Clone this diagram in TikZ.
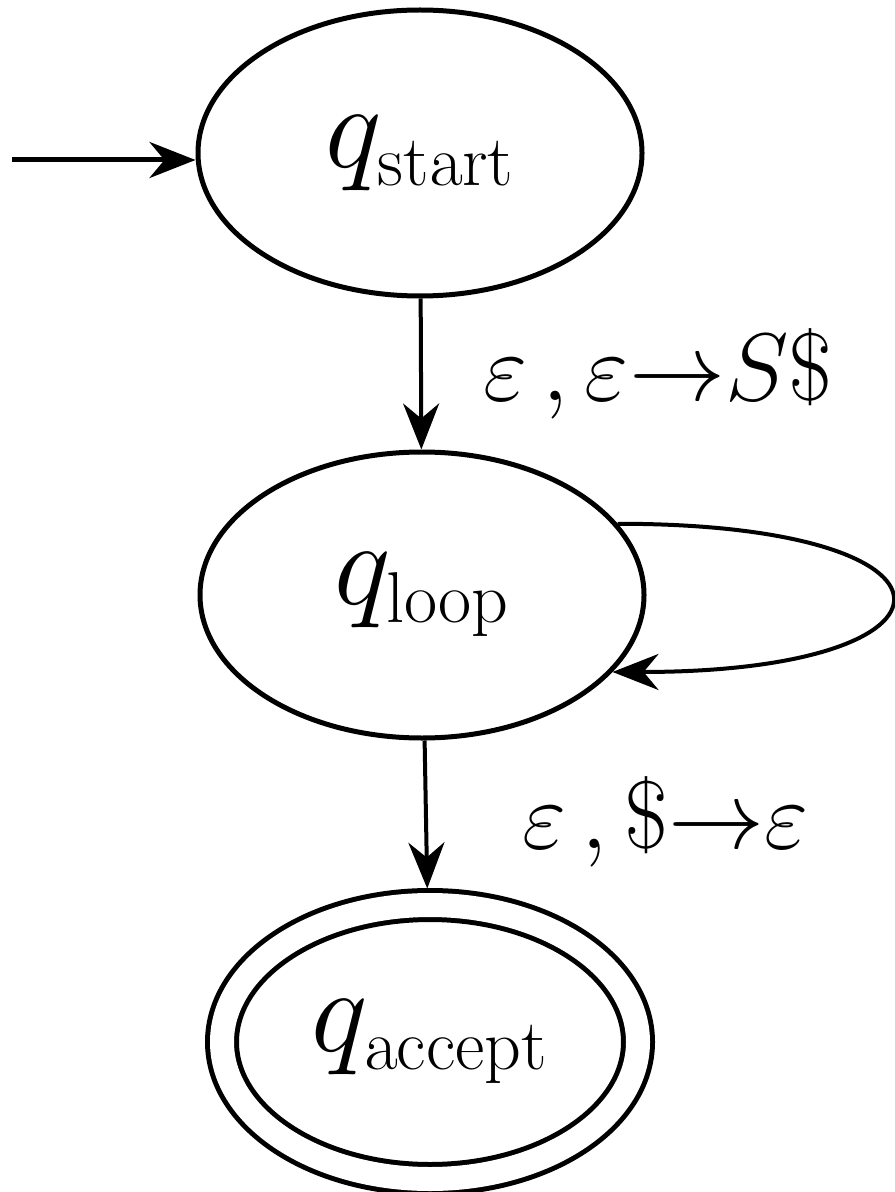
\documentclass[tikz,border=0pt]{standalone}
\usepackage{fix-cm}
\usepackage{amsmath}
\usetikzlibrary{shapes.geometric,arrows.meta}
\DeclareMathSizes{60}{60}{36}{26}

\begin{document}
\begin{tikzpicture}[x=0.5pt, y=-0.5pt,
    state/.style={draw, ellipse, line width=2.5pt, inner sep=0pt,
        minimum width=222pt, minimum height=143pt,
        font=\fontsize{60}{70}\selectfont},
    accepting/.style={double, double distance=12pt,
        minimum width=208pt, minimum height=137pt},
    edge/.style={line width=2pt, -{Stealth[length=23pt, width=18pt]}},
    lbl/.style={font=\fontsize{48}{56}\selectfont, anchor=west, inner sep=0pt}]
    \useasboundingbox (0,0) rectangle (894,1192);
    % states
    \node[state] (start) at (420,153) {$q_{\mathrm{start}}$};
    \node[state] (loop) at (422,595) {$q_{\mathrm{loop}}$};
    \node[state, accepting] (accept) at (430,1042) {$q_{\mathrm{accept}}$};
    % initial arrow
    \coordinate (init) at (12,160);
    \draw[edge, line width=2.5pt] (init) -- (init -| start.west);
    % transitions
    \draw[edge] (start) -- node[lbl, xshift=30pt]
        {$\varepsilon\,,\varepsilon{\rightarrow}S\$$} (loop);
    \draw[edge] (loop.20) .. controls +(367,0) and +(367,0) .. (loop.-22);
    \draw[edge, shorten >=7pt] (loop) -- node[lbl, xshift=47pt]
        {$\varepsilon\,,\${\rightarrow}\varepsilon$} (accept);
\end{tikzpicture}
\end{document}
